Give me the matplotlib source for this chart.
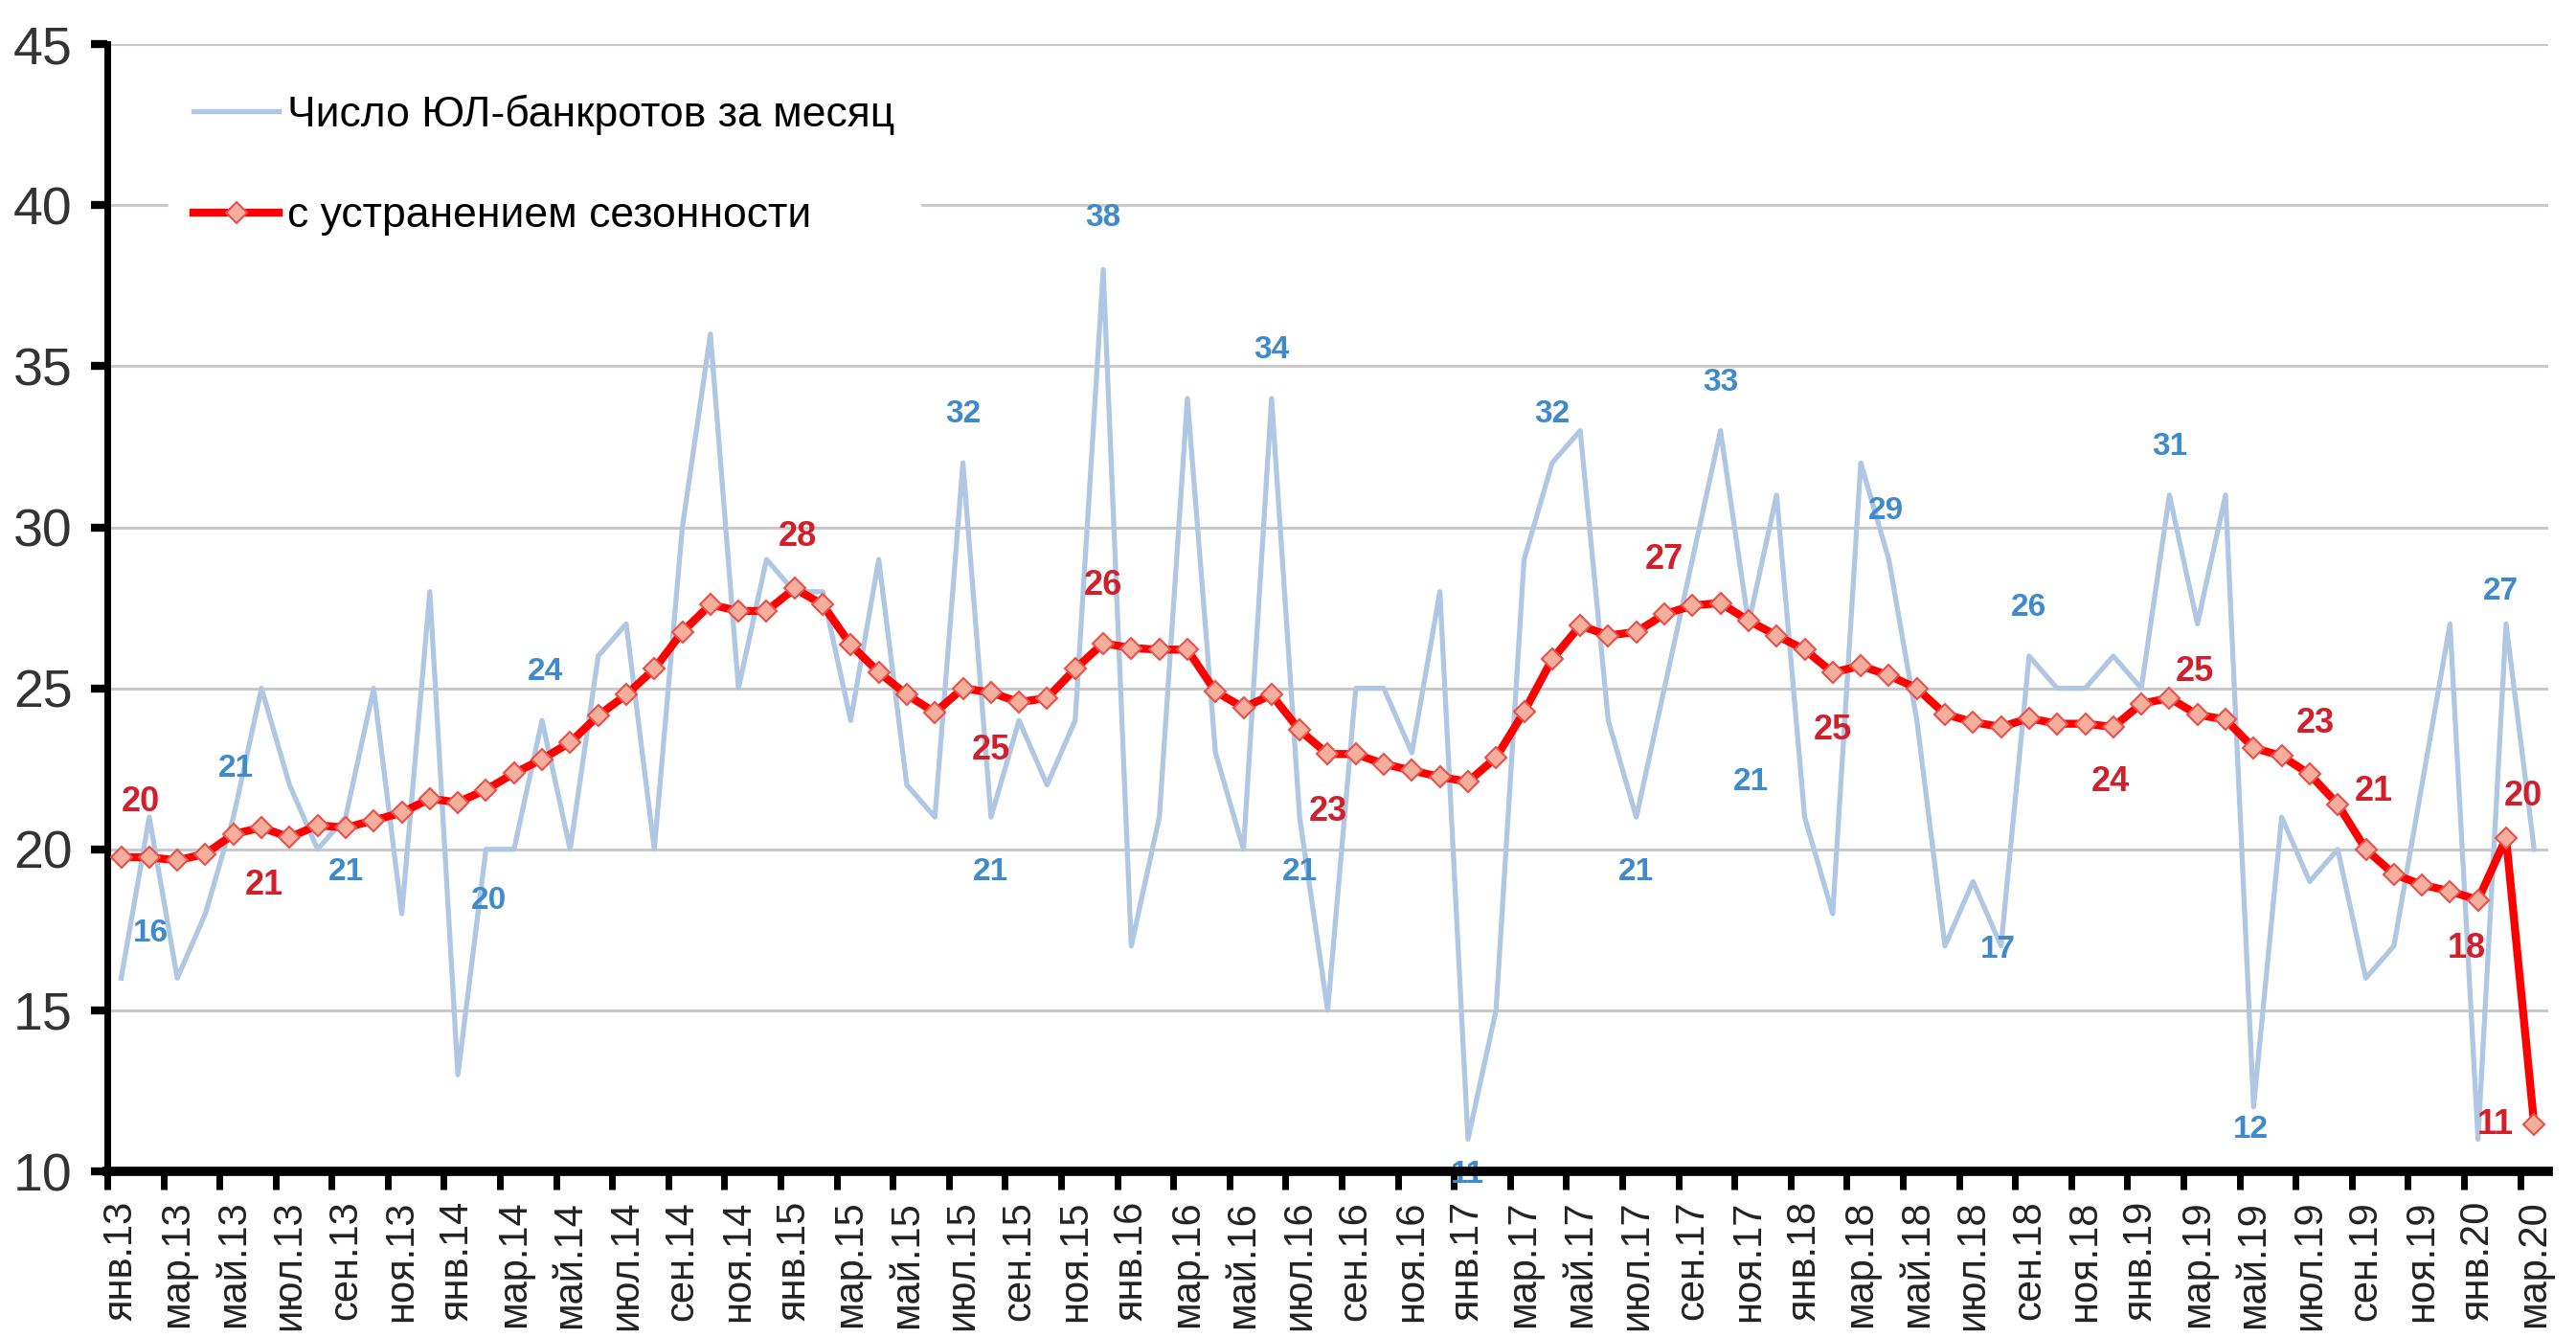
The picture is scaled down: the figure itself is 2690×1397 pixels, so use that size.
import matplotlib
matplotlib.use("Agg")
import matplotlib.pyplot as plt
from matplotlib.ticker import FixedLocator, NullFormatter

# monthly, Jan 2013 .. Mar 2020 (87 points)
month_names = ["янв", "фев", "мар", "апр", "май", "июн", "июл", "авг", "сен", "окт", "ноя", "дек"]
years = [13, 14, 15, 16, 17, 18, 19, 20]

# число ЮЛ-банкротов за месяц
raw = [16, 21, 16, 18, 21, 25, 22, 20, 21, 25, 18, 28,
       13, 20, 20, 24, 20, 26, 27, 20, 30, 36, 25, 29,
       28, 28, 24, 29, 22, 21, 32, 21, 24, 22, 24, 38,
       17, 21, 34, 23, 20, 34, 21, 15, 25, 25, 23, 28,
       11, 15, 29, 32, 33, 24, 21, 25, 29, 33, 27, 31,
       21, 18, 32, 29, 24, 17, 19, 17, 26, 25, 25, 26,
       25, 31, 27, 31, 12, 21, 19, 20, 16, 17, 22, 27,
       11, 27, 20]

# с устранением сезонности
sa = [19.76, 19.75, 19.66, 19.86, 20.47, 20.68, 20.37, 20.75, 20.67, 20.9, 21.14, 21.57,
      21.46, 21.85, 22.36, 22.8, 23.32, 24.15, 24.8, 25.6, 26.75, 27.6, 27.4, 27.4,
      28.1, 27.6, 26.35, 25.5, 24.8, 24.25, 25.0, 24.87, 24.57, 24.7, 25.6, 26.4,
      26.25, 26.2, 26.2, 24.9, 24.4, 24.8, 23.7, 22.96, 22.96, 22.65, 22.45, 22.25,
      22.1, 22.85, 24.27, 25.9, 26.95, 26.64, 26.75, 27.3, 27.57, 27.65, 27.1, 26.64,
      26.2, 25.49, 25.7, 25.4, 25.0, 24.2, 23.95, 23.8, 24.07, 23.9, 23.9, 23.8,
      24.52, 24.7, 24.18, 24.03, 23.15, 22.9, 22.33, 21.4, 20.0, 19.23, 18.9, 18.7,
      18.43, 20.35, 11.45]

n = len(raw)
x = list(range(n))
tick_labels = [f"{month_names[i % 12]}.{years[i // 12]}" for i in range(0, n, 2)]

# which points carry a value label, and where the label sits (dx, dy)
raw_labels = [(0, 1.05, 1.4), (4, 0.1, 1.5), (8, 0.0, -1.7), (13, 0.1, -1.6),
              (15, 0.1, 1.5), (30, 0.0, 1.5), (31, 0.0, -1.7), (35, 0.0, 1.6),
              (41, 0.0, 1.5), (42, 0.0, -1.7), (48, 0.0, -1.1), (51, 0.0, 1.5),
              (54, 0.0, -1.7), (57, 0.0, 1.5), (60, -1.9, 1.1), (63, -0.1, 1.5),
              (67, -0.1, -0.1), (68, 0.0, 1.5), (73, 0.0, 1.5), (76, -0.1, -0.7),
              (85, -0.2, 1.0)]
sa_labels = [(0, 0.7, 1.7), (5, 0.1, -1.8), (24, 0.1, 1.6), (31, 0.0, -1.8),
             (35, 0.0, 1.8), (43, 0.0, -1.8), (55, 0.0, 1.7), (61, 0.0, -1.8),
             (71, -0.1, -1.7), (73, 0.9, 0.8), (77, 1.2, 1.0), (79, 1.3, 0.4),
             (84, -0.4, -1.5), (85, 0.6, 1.3), (86, -1.4, 0.0)]

plt.rcParams["font.family"] = ["Liberation Sans", "DejaVu Sans"]

fig = plt.figure(figsize=(26.9, 13.97), dpi=100)
ax = fig.add_axes([0.0416, 0.1245, 0.9476, 0.8425])

blue = "#AFC7E3"
red = "#FF0000"

ax.plot(x, raw, color=blue, lw=3.8, zorder=3, label="Число ЮЛ-банкротов за месяц")
ax.plot(x, sa, color=red, lw=6, marker="D", markersize=11.5,
        markerfacecolor="#F6AE9C", markeredgecolor="#E8504A", markeredgewidth=1.5,
        zorder=4, label="с устранением сезонности")

for i, dx, dy in raw_labels:
    ax.text(i + dx, raw[i] + dy, str(raw[i]), color="#3E8ACB", fontsize=24,
            fontweight="bold", ha="center", va="center",
            zorder=2 if raw[i] <= 11 else 5)
for i, dx, dy in sa_labels:
    ax.text(i + dx, sa[i] + dy, str(int(round(sa[i]))), color="#D1202B", fontsize=26,
            fontweight="bold", ha="center", va="center", zorder=5)

ax.set_xlim(-0.5, n - 0.5)
ax.set_ylim(10, 45)
ax.set_yticks(range(10, 46, 5))
ax.yaxis.grid(True, color="#C9C9C9", lw=2.2)
ax.set_axisbelow(True)

ax.xaxis.set_major_locator(FixedLocator(list(range(0, n, 2))))
ax.set_xticklabels(tick_labels, rotation=90, fontsize=30, color="#222222")
ax.xaxis.set_minor_locator(FixedLocator([k - 0.5 for k in range(0, n + 1, 2)]))
ax.xaxis.set_minor_formatter(NullFormatter())
ax.tick_params(axis="x", which="major", length=0, pad=22)
ax.tick_params(axis="x", which="minor", length=14, width=5, color="black", direction="out")
ax.tick_params(axis="y", length=12, width=6, color="black", pad=14, labelsize=40,
               labelcolor="#333333")

for s in ["top", "right"]:
    ax.spines[s].set_visible(False)
ax.spines["left"].set_linewidth(5)
ax.spines["bottom"].set_linewidth(7)

leg = ax.legend(loc="upper left", bbox_to_anchor=(0.025, 0.978), frameon=True,
                fancybox=False, framealpha=1, edgecolor="white", facecolor="white",
                handlelength=2.0, handletextpad=0.2, labelspacing=1.45,
                borderpad=0.6, borderaxespad=0, prop={"size": 32})
leg.set_zorder(6)

fig.savefig("out.png", dpi=100)
